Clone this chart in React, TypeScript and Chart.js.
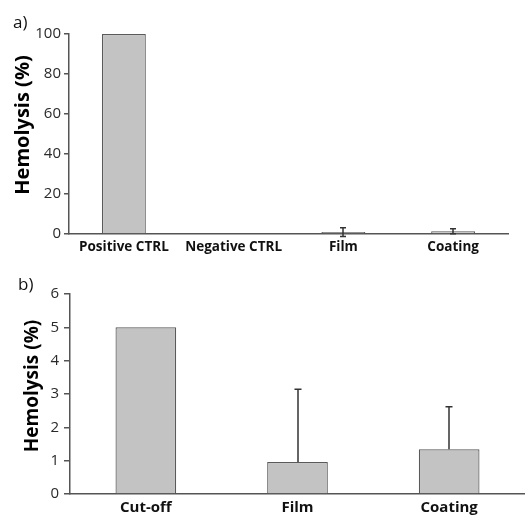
import React, { useEffect, useRef } from 'react';
import { Chart, registerables } from 'chart.js';

Chart.register(...registerables);

// ---- Data ----
const categoriesA = ['Positive CTRL', 'Negative CTRL', 'Film', 'Coating'];
const valuesA = [100, 0, 0.95, 1.35];
const errorsA = [0, 0, 2.2, 1.27];
const yMaxA = 100;
const yStepA = 20;

const categoriesB = ['Cut-off', 'Film', 'Coating'];
const valuesB = [5, 0.96, 1.34];
const errorsB = [0, 2.18, 1.28];
const yMaxB = 6;
const yStepB = 1;

const axisTitle = 'Hemolysis (%)';
const FONT = "'Open Sans', 'Liberation Sans', sans-serif";

const errorBarPlugin = {
  id: 'errorBars',
  afterDatasetsDraw(chart: any, _args: any, opts: any) {
    const errs: number[] = opts.errors || [];
    const meta = chart.getDatasetMeta(0);
    const ys = chart.scales.y;
    const data = chart.data.datasets[0].data as number[];
    const ctx = chart.ctx;
    const cap = opts.cap || 3;
    ctx.save();
    ctx.strokeStyle = opts.color || '#333';
    ctx.lineWidth = opts.lineWidth || 1.5;
    meta.data.forEach((el: any, i: number) => {
      const e = errs[i];
      if (!e) return;
      const v = data[i];
      const x = Math.round(el.x);
      const yTop = ys.getPixelForValue(v + e);
      const yBot = opts.symmetric ? ys.getPixelForValue(v - e) : ys.getPixelForValue(v);
      ctx.beginPath();
      ctx.moveTo(x, yBot);
      ctx.lineTo(x, yTop);
      ctx.moveTo(x - cap, yTop);
      ctx.lineTo(x + cap, yTop);
      if (opts.symmetric) {
        ctx.moveTo(x - cap, yBot);
        ctx.lineTo(x + cap, yBot);
      }
      ctx.stroke();
    });
    ctx.restore();
  },
};

type PanelProps = {
  width: number;
  height: number;
  categories: string[];
  values: number[];
  errors: number[];
  yMax: number;
  yStep: number;
  symmetric: boolean;
  padTop: number;
  padRight: number;
  yAxisWidth: number;
  xAxisHeight: number;
  tickSize: number;
  catSize: number;
  tickLen: number;
  tickPad: number;
  cap: number;
};

function BarPanel(p: PanelProps) {
  const ref = useRef<HTMLCanvasElement | null>(null);
  useEffect(() => {
    if (!ref.current) return;
    const axisColor = '#555555';
    const chart = new Chart(ref.current, {
      type: 'bar',
      data: {
        labels: p.categories,
        datasets: [
          {
            data: p.values,
            backgroundColor: '#c3c3c3',
            borderColor: '#5a5a5a',
            borderWidth: 1.2,
            barPercentage: 0.4,
            categoryPercentage: 1,
          },
        ],
      },
      options: {
        responsive: false,
        animation: false,
        devicePixelRatio: 1,
        layout: { padding: { top: p.padTop, right: p.padRight, left: 0, bottom: 0 } },
        plugins: {
          legend: { display: false },
          tooltip: { enabled: false },
          errorBars: { errors: p.errors, symmetric: p.symmetric, cap: p.cap, color: '#333333', lineWidth: 1.5 },
        } as any,
        scales: {
          x: {
            grid: { display: false, drawTicks: false },
            border: { display: true, color: axisColor, width: 1.5 },
            ticks: {
              color: '#111',
              padding: 5,
              maxRotation: 0,
              autoSkip: false,
              font: { family: FONT, size: p.catSize, weight: 'bold' },
            },
            afterFit: (scale: any) => {
              scale.height = p.xAxisHeight;
            },
          },
          y: {
            min: 0,
            max: p.yMax,
            grid: {
              display: true,
              drawOnChartArea: false,
              drawTicks: true,
              tickLength: p.tickLen,
              color: axisColor,
              lineWidth: 1.5,
            },
            border: { display: true, color: axisColor, width: 1.5 },
            ticks: {
              stepSize: p.yStep,
              color: '#2a2a2a',
              padding: p.tickPad,
              font: { family: FONT, size: p.tickSize },
            },
            afterFit: (scale: any) => {
              scale.width = p.yAxisWidth;
            },
          },
        },
      },
      plugins: [errorBarPlugin],
    });
    return () => chart.destroy();
  }, []);
  return <canvas ref={ref} width={p.width} height={p.height} style={{ display: 'block', width: p.width, height: p.height }} />;
}

const rotatedTitle = (cx: number, cy: number, size: number): React.CSSProperties => ({
  position: 'absolute',
  left: cx - 100,
  top: cy - 12,
  width: 200,
  height: 24,
  lineHeight: '24px',
  textAlign: 'center',
  fontFamily: FONT,
  fontWeight: 'bold',
  fontSize: size,
  color: '#000',
  transform: 'rotate(-90deg)',
  whiteSpace: 'nowrap',
});

export default function App() {
  return (
    <div style={{ position: 'absolute', left: 0, top: 0, width: 525, height: 517, background: '#fff', overflow: 'hidden' }}>
      <div style={{ position: 'absolute', left: 0, top: 0 }}>
        <BarPanel
          width={525}
          height={259}
          categories={categoriesA}
          values={valuesA}
          errors={errorsA}
          yMax={yMaxA}
          yStep={yStepA}
          symmetric={true}
          padTop={34}
          padRight={17}
          yAxisWidth={69}
          xAxisHeight={25}
          tickSize={15}
          catSize={13.5}
          tickLen={5}
          tickPad={3}
          cap={3}
        />
      </div>
      <div style={{ position: 'absolute', left: 0, top: 259 }}>
        <BarPanel
          width={525}
          height={258}
          categories={categoriesB}
          values={valuesB}
          errors={errorsB}
          yMax={yMaxB}
          yStep={yStepB}
          symmetric={false}
          padTop={35}
          padRight={0}
          yAxisWidth={70}
          xAxisHeight={23}
          tickSize={15}
          catSize={15}
          tickLen={6}
          tickPad={5}
          cap={3.5}
        />
      </div>
      <div style={{ position: 'absolute', left: 13, top: 13, fontFamily: FONT, fontSize: 17, lineHeight: '17px', color: '#111' }}>a)</div>
      <div style={{ position: 'absolute', left: 18, top: 275, fontFamily: FONT, fontSize: 17, lineHeight: '17px', color: '#111' }}>b)</div>
      <div style={rotatedTitle(22, 125, 20)}>{axisTitle}</div>
      <div style={rotatedTitle(31, 386, 19)}>{axisTitle}</div>
    </div>
  );
}
